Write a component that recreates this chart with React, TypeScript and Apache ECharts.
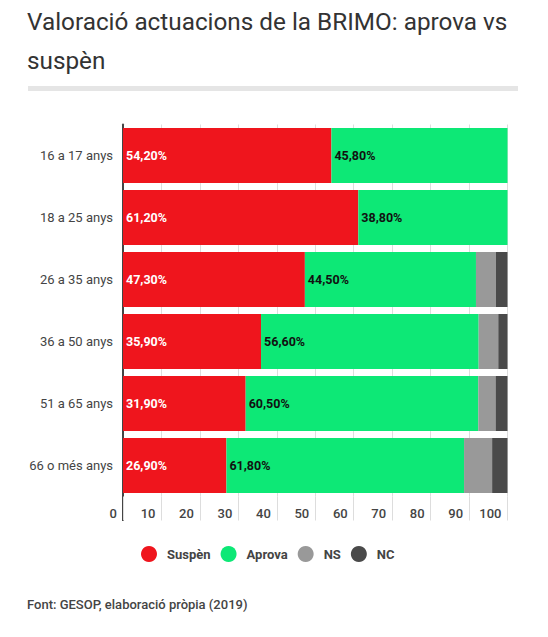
import React, { useEffect, useRef } from "react";
import * as echarts from "echarts";

const categories = ["16 a 17 anys", "18 a 25 anys", "26 a 35 anys", "36 a 50 anys", "51 a 65 anys", "66 o més anys"];
const suspen = [54.2, 61.2, 47.3, 35.9, 31.9, 26.9];
const aprova = [45.8, 38.8, 44.5, 56.6, 60.5, 61.8];
const ns = [0, 0, 5.2, 5.1, 4.5, 7.3];
const nc = [0, 0, 3.0, 2.4, 3.1, 4.0];
const xTicks = [0, 10, 20, 30, 40, 50, 60, 70, 80, 90, 100];

const FONT = "Roboto, 'Noto Sans', sans-serif";

export default function App() {
  const ref = useRef<HTMLDivElement>(null);
  useEffect(() => {
    document.body.style.margin = "0";
    const chart = echarts.init(ref.current!, null, { renderer: "svg" });
    const fmt = (p: any) => p.value.toFixed(2).replace(".", ",") + "%";
    const mk = (name: string, data: number[], color: string, label?: any) => ({
      name,
      type: "bar",
      stack: "total",
      barWidth: 55,
      data,
      itemStyle: { color },
      label: label || { show: false },
      emphasis: { disabled: true },
    });
    chart.setOption({
      animation: false,
      textStyle: { fontFamily: FONT },
      title: {
        text: "Valoració actuacions de la BRIMO: aprova vs\nsuspèn",
        left: 27,
        top: 2,
        padding: 0,
        textStyle: { fontFamily: FONT, fontSize: 24.3, fontWeight: "normal", color: "#333", lineHeight: 39 },
      },
      graphic: [
        { type: "rect", shape: { x: 28, y: 86, width: 490, height: 5 }, style: { fill: "#e5e5e5" } },
        { type: "line", shape: { x1: 123, y1: 496, x2: 123, y2: 521 }, style: { stroke: "#444", lineWidth: 2 } },
      ],
      legend: {
        left: 141,
        top: 546,
        padding: 0,
        icon: "circle",
        itemWidth: 16,
        itemHeight: 16,
        itemGap: 10,
        data: ["Suspèn", "Aprova", "NS", "NC"],
        textStyle: { fontFamily: FONT, fontSize: 13, fontWeight: "bold", color: "#444", padding: [0, 0, 0, 5] },
        selectedMode: false,
      },
      grid: { left: 123, right: 40.5, top: 124.5, bottom: 140.5, containLabel: false },
      xAxis: {
        type: "value",
        min: 0,
        max: 100,
        interval: 10,
        axisLine: { show: false },
        axisTick: { show: true, length: 24, lineStyle: { color: "#dddddd", width: 1 } },
        splitLine: { show: true, lineStyle: { color: "#dddddd", width: 1 } },
        axisLabel: {
          align: "right",
          padding: [0, 6, 0, 0],
          margin: 10,
          fontFamily: FONT,
          fontSize: 13,
          fontWeight: 500,
          color: "#444",
          formatter: (v: number) => (xTicks.includes(v) ? String(v) : ""),
        },
      },
      yAxis: {
        type: "category",
        inverse: true,
        data: categories,
        axisLine: { show: true, lineStyle: { color: "#444", width: 2 } },
        axisTick: { show: false },
        axisLabel: { margin: 10, fontFamily: FONT, fontSize: 13, color: "#444" },
      },
      series: [
        mk("Suspèn", suspen, "#ef151d", {
          show: true,
          position: "insideLeft",
          distance: 3,
          formatter: fmt,
          color: "#fff",
          fontFamily: FONT,
          fontSize: 12.5,
          fontWeight: "bold",
        }),
        mk("Aprova", aprova, "#0de876", {
          show: true,
          position: "insideLeft",
          distance: 3,
          formatter: fmt,
          color: "#111",
          fontFamily: FONT,
          fontSize: 12.5,
          fontWeight: "bold",
        }),
        mk("NS", ns, "#999999"),
        mk("NC", nc, "#4a4a4a"),
      ],
    });
    return () => chart.dispose();
  }, []);
  return (
    <div style={{ position: "relative", width: 548, height: 637 }}>
      <div ref={ref} style={{ width: 548, height: 637 }} />
      <div
        style={{
          position: "absolute",
          left: 27,
          top: 597,
          fontFamily: FONT,
          fontSize: 13,
          fontWeight: 500,
          color: "#444",
          whiteSpace: "nowrap",
        }}
      >
        Font: GESOP, elaboració pròpia (2019)
      </div>
    </div>
  );
}
